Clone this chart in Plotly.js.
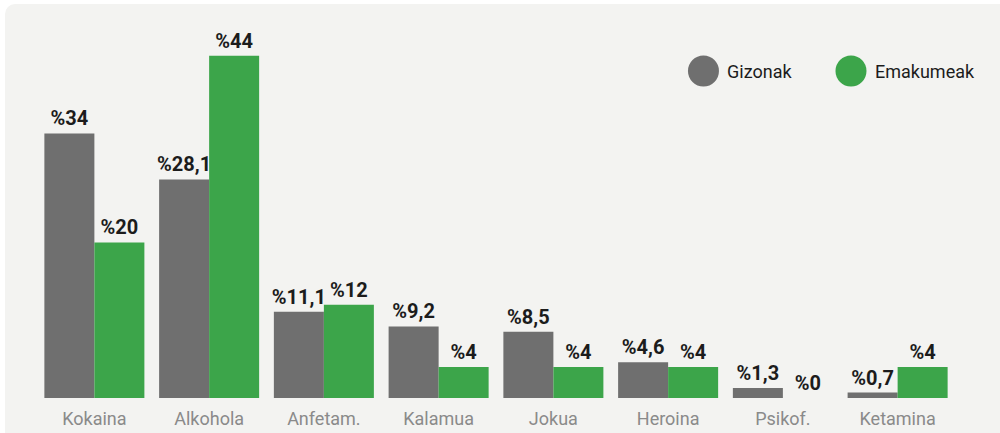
<!DOCTYPE html>
<html>
<head>
<meta charset="utf-8">
<script src="https://cdn.plot.ly/plotly-3.0.1.min.js"></script>
<style>
  html, body { margin: 0; padding: 0; background: #ffffff; }
  #bg { position: absolute; left: 5px; top: 4px; width: 1005px; height: 440px; background: #f3f3f1; border-radius: 10px; }
  #chart { position: absolute; left: 0; top: 0; width: 1000px; height: 433px; }
</style>
</head>
<body>
<div id="bg"></div>
<div id="chart"></div>
<script>
const categories = ["Kokaina", "Alkohola", "Anfetam.", "Kalamua", "Jokua", "Heroina", "Psikof.", "Ketamina"];
const gizonak = [34, 28.1, 11.1, 9.2, 8.5, 4.6, 1.3, 0.7];
const emakumeak = [20, 44, 12, 4, 4, 4, 0, 4];
const seriesNames = ["Gizonak", "Emakumeak"];
const colors = ["#6f6f6f", "#3ca54a"];

const fmt = v => "%" + String(v).replace(".", ",");

const mkBar = (vals, i) => ({
  type: "bar",
  name: seriesNames[i],
  x: categories,
  y: vals,
  marker: { color: colors[i] },
  text: vals.map(fmt),
  textposition: "outside",
  textfont: { family: "Roboto", size: 20, color: "#1c1c1c", weight: "bold" },
  cliponaxis: false,
  constraintext: "none",
  hoverinfo: "skip",
  showlegend: false
});

const data = [mkBar(gizonak, 0), mkBar(emakumeak, 1)];

const legendY = 0.8406;
const legendItems = [
  { cx: 0.7260, tx: 0.7494 },
  { cx: 0.8867, tx: 0.9106 }
];
const shapes = legendItems.map((it, i) => ({
  type: "circle", xref: "paper", yref: "paper",
  xsizemode: "pixel", ysizemode: "pixel",
  xanchor: it.cx, yanchor: legendY,
  x0: -15.5, x1: 15.5, y0: -15.5, y1: 15.5,
  fillcolor: colors[i], line: { width: 0 }
}));
const annotations = legendItems.map((it, i) => ({
  xref: "paper", yref: "paper", x: it.tx, y: legendY,
  xanchor: "left", yanchor: "middle", showarrow: false,
  text: seriesNames[i],
  font: { family: "Roboto", size: 18, color: "#1c1c1c" }
}));

const layout = {
  width: 1000, height: 433,
  margin: { l: 37, r: 45, t: 9, b: 35 },
  paper_bgcolor: "rgba(0,0,0,0)",
  plot_bgcolor: "rgba(0,0,0,0)",
  barmode: "group",
  bargap: 0.1285,
  bargroupgap: 0,
  showlegend: false,
  xaxis: {
    type: "category",
    showgrid: false, zeroline: false, showline: false, ticks: "",
    ticklabelstandoff: 8,
    tickfont: { family: "Roboto", size: 18, color: "#8a8a8a" }
  },
  yaxis: {
    range: [0, 50], visible: false, showgrid: false, zeroline: false
  },
  shapes: shapes,
  annotations: annotations
};

Plotly.newPlot("chart", data, layout, { displayModeBar: false, staticPlot: true });
</script>
</body>
</html>
